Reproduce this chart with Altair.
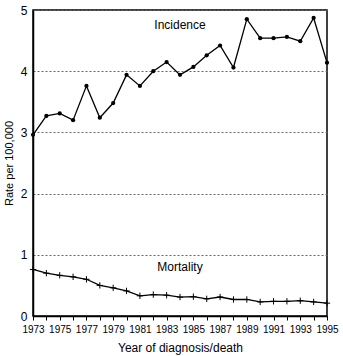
import altair as alt
import pandas as pd

years = list(range(1973, 1996))
incidence = [2.96, 3.27, 3.31, 3.20, 3.76, 3.24, 3.48, 3.94, 3.76, 4.00, 4.15, 3.94,
             4.07, 4.26, 4.42, 4.06, 4.85, 4.54, 4.54, 4.56, 4.49, 4.87, 4.14]
mortality = [0.76, 0.70, 0.665, 0.64, 0.60, 0.50, 0.46, 0.41, 0.33, 0.35, 0.34, 0.31,
             0.315, 0.28, 0.31, 0.27, 0.27, 0.23, 0.24, 0.24, 0.25, 0.23, 0.21]

label_names = ["Incidence", "Mortality"]
label_x = [1984.0, 1984.0]
label_y = [4.76, 0.8]

inc_df = pd.DataFrame({"year": years, "rate": incidence})
mor_df = pd.DataFrame({"year": years, "rate": mortality})
lab_df = pd.DataFrame({"name": label_names, "year": label_x, "rate": label_y})

FONT = "Liberation Sans"

x = alt.X("year:Q", scale=alt.Scale(domain=[1973, 1995], nice=False, zero=False),
          axis=alt.Axis(title="Year of diagnosis/death", values=years,
                        labelExpr="datum.value % 2 == 1 ? datum.label : ''",
                        format="d", grid=False, tickSize=4, tickColor="black",
                        domainColor="black", domainWidth=1.5, labelFontSize=10,
                        labelColor="black", labelFont=FONT, titleFont=FONT,
                        titleFontSize=12, titleFontWeight="normal", titleColor="black",
                        titlePadding=8, labelPadding=4, labelFlush=False))
y = alt.Y("rate:Q", scale=alt.Scale(domain=[0, 5], nice=False),
          axis=alt.Axis(title="Rate per 100,000", values=[0, 1, 2, 3, 4, 5],
                        grid=True, gridDash=[2, 2], gridColor="#666666",
                        gridWidth=1, tickSize=0, domainColor="black", domainWidth=1.5,
                        labelFontSize=12, labelColor="black", labelFont=FONT,
                        titleFont=FONT, titleFontSize=11, titleFontWeight="normal",
                        titleColor="black", labelPadding=6, titlePadding=6))

inc_line = alt.Chart(inc_df).mark_line(color="black", strokeWidth=1.3).encode(x=x, y=y)
inc_pts = alt.Chart(inc_df).mark_point(filled=True, color="black", size=18, opacity=1).encode(x=x, y=y)
mor_line = alt.Chart(mor_df).mark_line(color="black", strokeWidth=1.3).encode(x=x, y=y)
mor_pts = alt.Chart(mor_df).mark_point(shape="M0,-1L0,1M-1,0L1,0", filled=False,
                                       color="black", size=40, strokeWidth=1, opacity=1).encode(x=x, y=y)
labels = alt.Chart(lab_df).mark_text(font=FONT, fontSize=12, color="black").encode(
    x=x, y=y, text="name:N")

chart = alt.layer(inc_line, inc_pts, mor_line, mor_pts, labels).properties(
    width=294, height=306, background="white",
    autosize=alt.AutoSizeParams(type="none"),
    padding={"left": 33, "top": 10, "right": 16, "bottom": 40},
).configure_view(stroke="black", strokeWidth=1.5)

chart.save("out.html", embed_options={"renderer": "svg", "actions": False})
